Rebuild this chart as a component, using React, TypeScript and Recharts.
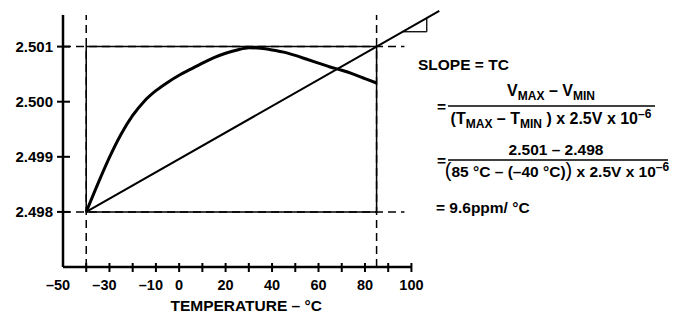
import React from 'react';
import {
  LineChart,
  Line,
  XAxis,
  YAxis,
  ReferenceLine,
  ReferenceArea,
  Customized,
} from 'recharts';

// ---- data ----
const curveTemps = [-40, -35, -30, -25, -20, -15, -10, -5, 0, 5, 10, 15, 20, 25, 30, 35, 40, 45, 50, 55, 60, 65, 70, 75, 80, 85];
const curveVolts = [
  2.498, 2.49851, 2.49899, 2.49941, 2.49975, 2.50001, 2.5002, 2.50035, 2.50048, 2.50059, 2.5007, 2.5008, 2.50088,
  2.50094, 2.50098, 2.50097, 2.50094, 2.5009, 2.50084, 2.50077, 2.5007, 2.50063, 2.50057, 2.5005, 2.50042, 2.50034,
];
const slopeTemps = [-40, 85, 112];
const slopeVolts = [2.498, 2.501, 2.501648];

const xTicks = [-50, -40, -30, -20, -10, 0, 10, 20, 30, 40, 50, 60, 70, 80, 90, 100];
const xTickLabels = ['–50', '', '–30', '', '–10', '0', '', '20', '', '40', '', '60', '', '80', '', '100'];
const yTicks = [2.498, 2.499, 2.5, 2.501];
const yTickLabels = ['2.498', '2.499', '2.500', '2.501'];

const tMin = -40;
const tMax = 85;
const vMin = 2.498;
const vMax = 2.501;
const xAxisMin = -50;
const xAxisMax = 100;
const yAxisMin = 2.497;
const yAxisMax = 2.501575;
const dashEnd = 97;
// slope triangle legs
const triT1 = 96.4;
const triT2 = 106.6;
const triV1 = 2.50127;
const triV2 = 2.501518;

const curveData = curveTemps.map((t, i) => ({ t, v: curveVolts[i] }));
const slopeData = slopeTemps.map((t, i) => ({ t, v: slopeVolts[i] }));

const FONT = '"Liberation Sans", Arial, Helvetica, sans-serif';
const txt = { fontFamily: FONT, fontWeight: 700 as const, fill: '#000' };

const XTick = (props: any) => {
  const { x, y, payload } = props;
  const i = xTicks.indexOf(payload.value);
  const label = xTickLabels[i] ?? '';
  const shift = label.startsWith('–') ? -5 : 0;
  return (
    <g>
      {payload.value !== xAxisMin && (
        <line x1={x} x2={x} y1={y - 4} y2={y + 5} stroke="#000" strokeWidth={2} />
      )}
      {label && (
        <text x={x + shift} y={y + 23} textAnchor="middle" fontSize={14.5} {...txt}>
          {label}
        </text>
      )}
    </g>
  );
};

const YTick = (props: any) => {
  const { x, y, payload } = props;
  const i = yTicks.indexOf(payload.value);
  const label = yTickLabels[i] ?? '';
  return (
    <g>
      <line x1={x - 6} x2={x + 7} y1={y} y2={y} stroke="#000" strokeWidth={2} />
      <text x={x - 10} y={y + 5} textAnchor="end" fontSize={15} {...txt}>
        {label}
      </text>
    </g>
  );
};

const Formula = () => {
  const fs = 15.5;
  const sub = 12;
  return (
    <g>
      <text x={418} y={70} fontSize={fs} {...txt}>SLOPE = TC</text>
      <text x={551} y={96} fontSize={16} textAnchor="middle" {...txt}>
        V<tspan fontSize={sub} dy={4}>MAX</tspan>
        <tspan dy={-4}> – V</tspan>
        <tspan fontSize={sub} dy={4}>MIN</tspan>
      </text>
      <text x={437} y={112} fontSize={fs} {...txt}>=</text>
      <line x1={448} x2={655} y1={106} y2={106} stroke="#000" strokeWidth={1.5} />
      <text x={551} y={124} fontSize={16} textAnchor="middle" {...txt}>
        (T<tspan fontSize={sub} dy={4}>MAX</tspan>
        <tspan dy={-4}> – T</tspan>
        <tspan fontSize={sub} dy={4}>MIN</tspan>
        <tspan dy={-4}> ) x 2.5V x 10</tspan>
        <tspan fontSize={sub} dy={-6}>–6</tspan>
      </text>
      <text x={556} y={155} fontSize={fs} textAnchor="middle" {...txt}>2.501 – 2.498</text>
      <text x={437} y={166} fontSize={fs} {...txt}>=</text>
      <line x1={448} x2={668} y1={160} y2={160} stroke="#000" strokeWidth={1.5} />
      <text x={557} y={177} fontSize={fs} textAnchor="middle" {...txt}>
        <tspan fontSize={20} fontWeight={400}>(</tspan>
        <tspan>85 °C – (–40 °C)</tspan>
        <tspan fontSize={20} fontWeight={400}>)</tspan>
        <tspan> x 2.5V x 10</tspan>
        <tspan fontSize={sub} dy={-6}>–6</tspan>
      </text>
      <text x={436} y={213} fontSize={fs} {...txt}>= 9.6ppm/ °C</text>
    </g>
  );
};

export default function App() {
  return (
    <div style={{ position: 'absolute', left: 0, top: 0, background: '#fff' }}>
      <LineChart
        width={676}
        height={313}
        margin={{ top: 10.8, right: 236.7, bottom: 0, left: 0 }}
      >
        <XAxis
          type="number"
          dataKey="t"
          domain={[xAxisMin, 112]}
          ticks={xTicks}
          interval={0}
          axisLine={false}
          tickLine={false}
          tickSize={0}
          tickMargin={0}
          height={46}
          tick={<XTick />}
          label={{
            value: 'TEMPERATURE – °C',
            position: 'insideBottom',
            offset: 2,
            dx: -5,
            fill: '#000',
            fontSize: 15.5,
            fontWeight: 700,
            fontFamily: FONT,
          }}
        />
        <YAxis
          type="number"
          dataKey="v"
          domain={[yAxisMin, 2.50165]}
          ticks={yTicks}
          interval={0}
          axisLine={false}
          tickLine={false}
          tickSize={0}
          tickMargin={0}
          width={63}
          tick={<YTick />}
        />
        {/* dashed guides */}
        <ReferenceLine segment={[{ x: tMin, y: yAxisMin }, { x: tMin, y: yAxisMax }]} stroke="#000" strokeWidth={1.5} strokeDasharray="8 5" />
        <ReferenceLine segment={[{ x: tMax, y: yAxisMin }, { x: tMax, y: yAxisMax }]} stroke="#000" strokeWidth={1.5} strokeDasharray="8 5" />
        <ReferenceLine segment={[{ x: xAxisMin, y: vMax }, { x: dashEnd, y: vMax }]} stroke="#000" strokeWidth={1.5} strokeDasharray="8 5" />
        <ReferenceLine segment={[{ x: xAxisMin, y: vMin }, { x: dashEnd, y: vMin }]} stroke="#000" strokeWidth={1.5} strokeDasharray="8 5" />
        {/* box */}
        <ReferenceArea x1={tMin} x2={tMax} y1={vMin} y2={vMax} fill="none" fillOpacity={0} stroke="#000" strokeWidth={1.5} />
        {/* axes */}
        <ReferenceLine segment={[{ x: xAxisMin, y: yAxisMin }, { x: xAxisMax, y: yAxisMin }]} stroke="#000" strokeWidth={2.5} />
        <ReferenceLine segment={[{ x: xAxisMin, y: yAxisMin }, { x: xAxisMin, y: yAxisMax }]} stroke="#000" strokeWidth={2.5} />
        {/* slope triangle */}
        <ReferenceLine segment={[{ x: triT1, y: triV1 }, { x: triT2, y: triV1 }]} stroke="#000" strokeWidth={1.3} />
        <ReferenceLine segment={[{ x: triT2, y: triV1 }, { x: triT2, y: triV2 }]} stroke="#000" strokeWidth={1.3} />
        <Line data={slopeData} dataKey="v" type="linear" stroke="#000" strokeWidth={2} dot={false} isAnimationActive={false} />
        <Line data={curveData} dataKey="v" type="monotone" stroke="#000" strokeWidth={3} dot={false} isAnimationActive={false} />
        <Customized component={Formula} />
      </LineChart>
    </div>
  );
}
